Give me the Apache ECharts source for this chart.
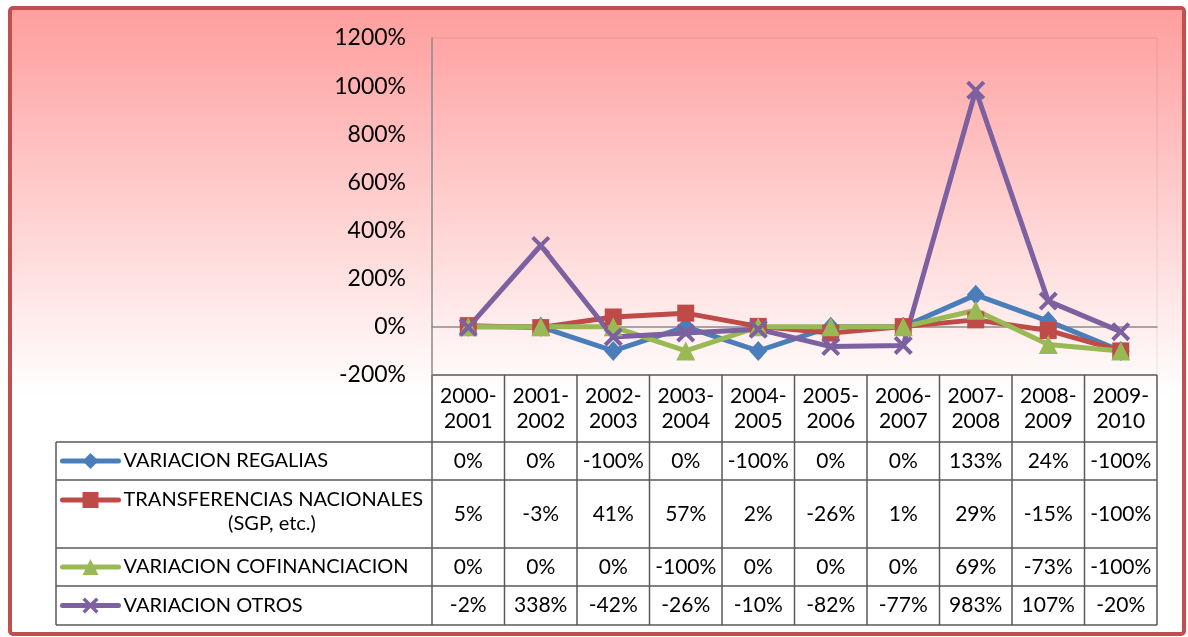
<!DOCTYPE html>
<html>
<head>
<meta charset="utf-8">
<script src="https://cdn.jsdelivr.net/npm/echarts@6/dist/echarts.min.js"></script>
<style>
  html, body { margin: 0; padding: 0; background: #fff; }
  #chart { width: 1188px; height: 637px; }
</style>
</head>
<body>
<div id="chart"></div>
<script>
// periodos (eje x y cabecera de la tabla)
var periodos = ['2000-2001', '2001-2002', '2002-2003', '2003-2004', '2004-2005',
  '2005-2006', '2006-2007', '2007-2008', '2008-2009', '2009-2010']

// variaciones en %
var regalias = [0, 0, -100, 0, -100, 0, 0, 133, 24, -100]
var transferencias = [5, -3, 41, 57, 2, -26, 1, 29, -15, -100]
var cofinanciacion = [0, 0, 0, -100, 0, 0, 0, 69, -73, -100]
var otros = [-2, 338, -42, -26, -10, -82, -77, 983, 107, -20]

// eje y
var yMin = -200
var yMax = 1200
var yStep = 200

var nombres = ['VARIACION REGALIAS', 'TRANSFERENCIAS NACIONALES (SGP, etc.)',
  'VARIACION COFINANCIACION', 'VARIACION OTROS']
var colores = ['#4a7ebb', '#be4b48', '#98b954', '#7d60a0']
var xMarker = 'path://M0,1.5L1.5,0L10,8.5L8.5,10Z M8.5,0L10,1.5L1.5,10L0,8.5Z'
var simbolos = ['diamond', 'rect', 'triangle', xMarker]
var tamanos = [[18, 20], 17, 19, 19]
var valores = [regalias, transferencias, cofinanciacion, otros]

// layout
var W = 1188
var H = 637
var gridLeft = 432
var gridRight = 31
var gridTop = 38
var gridBottom = 262
var tablaLeft = 56
var headerH = 67
var filasH = [38, 68, 38, 39]
var fuente = 'Lato'
var colorLinea = '#595959'

var chart = echarts.init(document.getElementById('chart'))

var plotBottom = H - gridBottom
var plotRight = W - gridRight
var colW = (plotRight - gridLeft) / periodos.length

function serie (i) {
  return {
    name: nombres[i],
    type: 'line',
    data: valores[i],
    symbol: simbolos[i],
    symbolSize: tamanos[i],
    lineStyle: {color: colores[i], width: 5, join: 'round', cap: 'round'},
    itemStyle: {color: colores[i]},
    emphasis: {disabled: true}
  }
}

// graficos de la tabla
var graficos = []
graficos.push({
  type: 'rect',
  z: -10,
  silent: true,
  shape: {x: 10, y: 8, width: 1174, height: 626, r: 3},
  style: {
    fill: new echarts.graphic.LinearGradient(0, 0, 0, 1, [
      {offset: 0, color: '#ff9d9d'},
      {offset: 0.62, color: '#ffffff'},
      {offset: 1, color: '#ffffff'}
    ]),
    stroke: '#c0504d',
    lineWidth: 4
  }
})

function linea (x1, y1, x2, y2) {
  graficos.push({
    type: 'line',
    silent: true,
    shape: {x1: x1, y1: y1, x2: x2, y2: y2},
    style: {stroke: colorLinea, lineWidth: 1.5}
  })
}

function texto (t, x, y, size) {
  graficos.push({
    type: 'text',
    silent: true,
    x: x,
    y: y,
    style: {
      text: t,
      font: size + 'px ' + fuente,
      fill: '#000',
      align: 'center',
      verticalAlign: 'middle',
      lineHeight: 25
    }
  })
}

// cabecera
var tablaBottom = plotBottom + headerH
linea(gridLeft, plotBottom, plotRight, plotBottom)
for (var k = 0; k <= periodos.length; k++) {
  linea(gridLeft + k * colW, plotBottom, gridLeft + k * colW, tablaBottom)
}
periodos.forEach(function (p, j) {
  texto(p.replace('-', '-\n'), gridLeft + (j + 0.5) * colW, plotBottom + headerH / 2, 21)
})

// filas de datos
var filaTop = []
var y = tablaBottom
linea(tablaLeft, y, plotRight, y)
filasH.forEach(function (h, i) {
  filaTop.push(y)
  var yc = y + h / 2
  valores[i].forEach(function (v, j) {
    texto(v + '%', gridLeft + (j + 0.5) * colW, yc, 21)
  })
  y += h
  linea(tablaLeft, y, plotRight, y)
})
linea(tablaLeft, tablaBottom, tablaLeft, y)
for (var k2 = 0; k2 <= periodos.length; k2++) {
  linea(gridLeft + k2 * colW, tablaBottom, gridLeft + k2 * colW, y)
}
// segunda linea del nombre de transferencias
texto('(SGP, etc.)', 272, filaTop[1] + 44, 20)

// leyendas (una por fila)
var centrosLeyenda = [filaTop[0] + filasH[0] / 2, filaTop[1] + 20, filaTop[2] + filasH[2] / 2, filaTop[3] + filasH[3] / 2]
var leyendas = nombres.map(function (n, i) {
  return {
    data: [n],
    left: 60,
    top: centrosLeyenda[i] - 10,
    padding: 0,
    itemWidth: 56,
    itemHeight: 20,
    itemGap: 0,
    selectedMode: false,
    formatter: function (name) {
      return name.replace(' (SGP, etc.)', '')
    },
    lineStyle: {width: 5, cap: 'round'},
    textStyle: {fontFamily: fuente, fontSize: 20, color: '#000'}
  }
})

chart.setOption({
  animation: false,
  legend: leyendas,
  grid: {
    left: gridLeft,
    right: gridRight,
    top: gridTop,
    bottom: gridBottom,
    outerBoundsMode: 'none',
    show: true,
    borderWidth: 1,
    borderColor: 'rgba(0, 0, 0, 0.08)'
  },
  xAxis: {
    type: 'category',
    data: periodos,
    boundaryGap: true,
    axisLine: {onZero: true, lineStyle: {color: '#8c8c8c', width: 1.5}},
    axisTick: {show: false},
    axisLabel: {show: false},
    splitLine: {show: false}
  },
  yAxis: {
    type: 'value',
    min: yMin,
    max: yMax,
    interval: yStep,
    axisLine: {show: true, lineStyle: {color: '#8c8c8c', width: 1.5}},
    axisTick: {show: false},
    splitLine: {show: false},
    axisLabel: {
      formatter: function (v) {
        return v + '%'
      },
      margin: 26,
      fontFamily: fuente,
      fontSize: 23,
      color: '#000'
    }
  },
  graphic: graficos,
  series: [serie(0), serie(1), serie(2), serie(3)]
})
</script>
</body>
</html>
